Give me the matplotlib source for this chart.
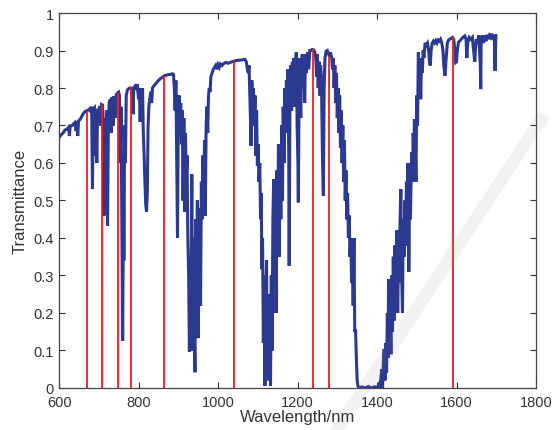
import numpy as np
import matplotlib
matplotlib.use('Agg')
import matplotlib.pyplot as plt
from matplotlib.lines import Line2D

plt.rcParams['font.family'] = ['Liberation Sans', 'DejaVu Sans']

# spectrum (wavelength nm, transmittance)
wavelength = [600, 605, 610, 615, 620, 624, 626, 628, 633, 637, 640, 643, 645, 647, 649, 652, 656, 660, 665, 670,
              674, 678, 680, 682, 684, 686, 689, 691, 693, 695, 697, 700, 703, 705, 707, 709, 711, 713, 715, 717,
              719, 721, 722, 724, 726, 729, 731, 733, 736, 738, 741, 744, 747, 750, 752, 754, 756, 758, 760, 761,
              762, 763, 765, 767, 769, 772, 775, 778, 781, 784, 786, 788, 791, 794, 797, 800, 802, 804, 806, 808,
              810, 812, 814, 816, 818, 820, 822, 824, 826, 828, 831, 833, 835, 838, 842, 846, 850, 855, 860, 865,
              870, 875, 880, 885, 888, 890, 892, 894, 896, 898, 900, 902, 904, 906, 908, 910, 912, 914, 916, 918,
              920, 922, 924, 926, 928, 930, 932, 934, 936, 938, 940, 942, 944, 946, 948, 950, 952, 954, 956, 958,
              960, 962, 964, 966, 968, 970, 972, 974, 976, 978, 980, 982, 985, 988, 991, 994, 997, 1000, 1003, 1006,
              1010, 1015, 1020, 1025, 1030, 1035, 1040, 1045, 1050, 1055, 1060, 1065, 1068, 1071, 1074, 1076, 1078, 1080, 1082, 1083,
              1085, 1087, 1089, 1091, 1093, 1095, 1097, 1099, 1101, 1103, 1105, 1107, 1109, 1110, 1112, 1114, 1116, 1118, 1120, 1122,
              1124, 1126, 1128, 1130, 1132, 1134, 1136, 1138, 1140, 1142, 1144, 1146, 1148, 1150, 1152, 1154, 1156, 1158, 1160, 1162,
              1164, 1166, 1168, 1170, 1172, 1174, 1176, 1178, 1179, 1181, 1183, 1185, 1187, 1189, 1191, 1193, 1195, 1197, 1199, 1201,
              1202, 1204, 1206, 1208, 1210, 1212, 1214, 1216, 1218, 1220, 1222, 1225, 1228, 1231, 1234, 1237, 1240, 1243, 1246, 1248,
              1250, 1252, 1254, 1256, 1258, 1260, 1263, 1265, 1267, 1269, 1272, 1275, 1278, 1280, 1283, 1286, 1288, 1290, 1292, 1294,
              1296, 1298, 1300, 1302, 1304, 1306, 1308, 1310, 1312, 1314, 1316, 1318, 1320, 1322, 1324, 1326, 1328, 1330, 1332, 1334,
              1336, 1338, 1340, 1342, 1344, 1346, 1348, 1350, 1352, 1356, 1362, 1370, 1378, 1386, 1394, 1400, 1405, 1408, 1410, 1412,
              1414, 1416, 1418, 1420, 1422, 1424, 1426, 1428, 1429, 1431, 1433, 1435, 1437, 1439, 1441, 1443, 1445, 1447, 1450, 1452,
              1454, 1456, 1458, 1460, 1462, 1464, 1466, 1468, 1470, 1472, 1474, 1476, 1478, 1480, 1482, 1484, 1487, 1489, 1491, 1493,
              1494, 1496, 1498, 1500, 1502, 1504, 1506, 1508, 1510, 1512, 1514, 1516, 1518, 1521, 1524, 1527, 1530, 1532, 1534, 1536,
              1539, 1542, 1545, 1548, 1551, 1554, 1557, 1560, 1563, 1566, 1568, 1571, 1574, 1577, 1580, 1583, 1586, 1590, 1593, 1596,
              1598, 1600, 1602, 1605, 1608, 1612, 1616, 1621, 1624, 1626, 1628, 1632, 1636, 1640, 1643, 1646, 1648, 1650, 1653, 1656,
              1658, 1660, 1661, 1662, 1665, 1668, 1671, 1674, 1677, 1680, 1683, 1686, 1689, 1692, 1695, 1697, 1699]
transmittance = [0.668, 0.675, 0.68, 0.688, 0.69, 0.695, 0.672, 0.698, 0.70, 0.705, 0.708, 0.685, 0.71, 0.672, 0.712, 0.715, 0.722, 0.73, 0.737, 0.739,
                 0.742, 0.745, 0.735, 0.75, 0.531, 0.745, 0.748, 0.62, 0.70, 0.60, 0.745, 0.73, 0.752, 0.70, 0.756, 0.755, 0.65, 0.46, 0.72, 0.62,
                 0.74, 0.55, 0.433, 0.70, 0.76, 0.77, 0.68, 0.775, 0.70, 0.778, 0.72, 0.782, 0.787, 0.789, 0.78, 0.60, 0.75, 0.45, 0.126, 0.30,
                 0.55, 0.34, 0.70, 0.60, 0.78, 0.795, 0.798, 0.80, 0.80, 0.79, 0.73, 0.80, 0.805, 0.80, 0.81, 0.77, 0.80, 0.71, 0.79, 0.74,
                 0.80, 0.68, 0.62, 0.55, 0.49, 0.47, 0.52, 0.70, 0.75, 0.77, 0.79, 0.76, 0.80, 0.805, 0.81, 0.815, 0.82, 0.825, 0.828, 0.833,
                 0.834, 0.836, 0.836, 0.838, 0.836, 0.80, 0.74, 0.82, 0.60, 0.40, 0.72, 0.78, 0.70, 0.76, 0.65, 0.74, 0.50, 0.72, 0.47, 0.68,
                 0.55, 0.62, 0.40, 0.30, 0.096, 0.35, 0.20, 0.57, 0.10, 0.40, 0.15, 0.042, 0.45, 0.22, 0.50, 0.133, 0.30, 0.48, 0.22, 0.55,
                 0.45, 0.62, 0.50, 0.66, 0.46, 0.70, 0.75, 0.68, 0.78, 0.80, 0.79, 0.83, 0.84, 0.85, 0.855, 0.86, 0.85, 0.862, 0.855, 0.864,
                 0.86, 0.866, 0.868, 0.866, 0.868, 0.87, 0.871, 0.873, 0.874, 0.874, 0.875, 0.876, 0.876, 0.87, 0.85, 0.84, 0.86, 0.78, 0.70, 0.646,
                 0.82, 0.75, 0.80, 0.70, 0.78, 0.62, 0.74, 0.593, 0.65, 0.55, 0.60, 0.45, 0.52, 0.317, 0.40, 0.12, 0.30, 0.006, 0.20, 0.34,
                 0.05, 0.25, 0.02, 0.18, 0.006, 0.30, 0.10, 0.45, 0.557, 0.30, 0.50, 0.20, 0.58, 0.40, 0.65, 0.35, 0.62, 0.45, 0.70, 0.50,
                 0.75, 0.60, 0.80, 0.68, 0.82, 0.72, 0.85, 0.60, 0.326, 0.78, 0.86, 0.74, 0.87, 0.80, 0.88, 0.75, 0.87, 0.895, 0.70, 0.60,
                 0.495, 0.80, 0.88, 0.72, 0.85, 0.89, 0.80, 0.87, 0.76, 0.89, 0.84, 0.895, 0.85, 0.90, 0.90, 0.903, 0.902, 0.898, 0.88, 0.83,
                 0.89, 0.80, 0.87, 0.78, 0.86, 0.83, 0.60, 0.513, 0.80, 0.88, 0.898, 0.90, 0.892, 0.885, 0.895, 0.88, 0.85, 0.88, 0.80, 0.86,
                 0.76, 0.84, 0.72, 0.80, 0.68, 0.78, 0.64, 0.74, 0.60, 0.70, 0.55, 0.66, 0.50, 0.58, 0.45, 0.52, 0.40, 0.46, 0.35, 0.40,
                 0.28, 0.35, 0.22, 0.40, 0.15, 0.157, 0.08, 0.02, 0.005, 0.0, 0.003, 0.0, 0.004, 0.0, 0.003, 0.0, 0.01, 0.0, 0.03, 0.05,
                 0.0, 0.07, 0.104, 0.02, 0.12, 0.04, 0.20, 0.08, 0.29, 0.10, 0.22, 0.09, 0.30, 0.15, 0.35, 0.18, 0.38, 0.25, 0.42, 0.20,
                 0.35, 0.28, 0.45, 0.53, 0.30, 0.20, 0.45, 0.35, 0.50, 0.38, 0.55, 0.45, 0.60, 0.31, 0.55, 0.45, 0.628, 0.55, 0.68, 0.60,
                 0.717, 0.65, 0.55, 0.78, 0.70, 0.895, 0.80, 0.86, 0.77, 0.88, 0.84, 0.90, 0.88, 0.92, 0.915, 0.92, 0.90, 0.87, 0.86, 0.90,
                 0.92, 0.925, 0.92, 0.926, 0.92, 0.928, 0.925, 0.93, 0.92, 0.90, 0.86, 0.833, 0.88, 0.92, 0.928, 0.93, 0.932, 0.935, 0.93, 0.90,
                 0.868, 0.87, 0.90, 0.922, 0.925, 0.93, 0.935, 0.939, 0.93, 0.88, 0.92, 0.935, 0.93, 0.935, 0.90, 0.87, 0.91, 0.93, 0.92, 0.94,
                 0.90, 0.86, 0.797, 0.93, 0.94, 0.92, 0.94, 0.925, 0.942, 0.93, 0.94, 0.935, 0.945, 0.93, 0.94, 0.846, 0.94]

# selected bands (red lines)
band_wl = [670, 708, 748, 780, 865, 1040, 1240, 1280, 1590]
band_t = [0.739, 0.756, 0.786, 0.802, 0.833, 0.871, 0.904, 0.885, 0.935]

xticks = [600, 800, 1000, 1200, 1400, 1600, 1800]
yticks = [0, 0.1, 0.2, 0.3, 0.4, 0.5, 0.6, 0.7, 0.8, 0.9, 1]
yticklabels = ['0', '0.1', '0.2', '0.3', '0.4', '0.5', '0.6', '0.7', '0.8', '0.9', '1']

fig = plt.figure(figsize=(5.52, 4.31), dpi=100)
ax = fig.add_axes([0.107, 0.0975, 0.864, 0.87])

ax.plot(wavelength, transmittance, color='#2b3990', lw=2.2, solid_joinstyle='miter', zorder=2)
ax.vlines(band_wl, 0, band_t, color='#ee1c25', lw=1.3, zorder=3)

ax.set_xlim(600, 1800)
ax.set_ylim(0, 1)
ax.set_xticks(xticks)
ax.set_yticks(yticks)
ax.set_yticklabels(yticklabels)
ax.tick_params(direction='in', top=True, right=True, length=4, width=0.8,
               labelsize=10.5, labelcolor='#333333', color='#333333')
ax.tick_params(axis='x', pad=5)
ax.tick_params(axis='y', pad=4)
for s in ax.spines.values():
    s.set_color('#444444')
    s.set_linewidth(0.9)
ax.set_xlabel('Wavelength/nm', fontsize=12, color='#333333', labelpad=0)
ax.set_ylabel('Transmittance', fontsize=12, color='#333333', labelpad=4)

# faint diagonal stroke of the watermark
fig.add_artist(Line2D([0.98, 0.6], [0.72, -0.02], transform=fig.transFigure,
                      color='#888888', alpha=0.1, lw=9, zorder=10))

fig.savefig('out.png', dpi=100)
